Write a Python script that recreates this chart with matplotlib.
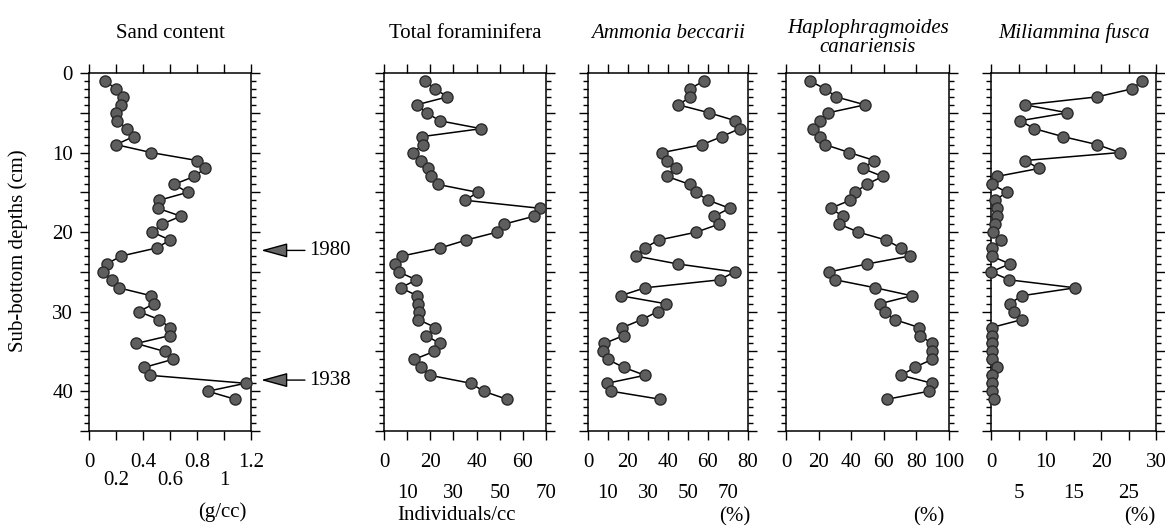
import numpy as np
import matplotlib.pyplot as plt
from matplotlib.ticker import MultipleLocator, FuncFormatter

plt.rcParams['font.family'] = ['Liberation Serif', 'DejaVu Serif']
plt.rcParams['font.size'] = 15

W, H = 1165, 525

DEPTH = np.arange(1, 42)

SAND = [0.12, 0.20, 0.25, 0.24, 0.20, 0.21, 0.28, 0.33, 0.20, 0.46,
        0.80, 0.86, 0.78, 0.63, 0.73, 0.52, 0.51, 0.68, 0.54, 0.47,
        0.60, 0.50, 0.24, 0.13, 0.10, 0.17, 0.22, 0.46, 0.48, 0.37,
        0.52, 0.60, 0.60, 0.35, 0.56, 0.62, 0.41, 0.45, 1.16, 0.88, 1.08]

TOTAL = [17.9, 22.1, 27.4, 14.1, 18.5, 24.0, 42.0, 16.3, 16.7, 12.7,
         16.2, 19.2, 20.2, 23.2, 40.5, 35.1, 67.2, 64.9, 51.9, 48.9,
         35.5, 24.2, 7.8, 4.6, 6.3, 14.0, 7.2, 14.4, 14.9, 15.2,
         14.9, 22.2, 18.2, 24.1, 21.6, 13.1, 16.0, 19.9, 37.5, 43.0, 53.0]

AMMONIA = [58.0, 50.8, 51.2, 45.2, 60.5, 73.7, 75.8, 66.8, 57.2, 37.2,
           39.5, 43.8, 39.5, 50.8, 53.8, 60.2, 70.8, 63.2, 65.5, 54.2,
           35.3, 28.3, 23.8, 44.8, 73.3, 65.8, 28.5, 16.3, 38.8, 34.8,
           26.8, 17.2, 17.8, 8.2, 7.5, 9.8, 17.8, 28.5, 9.5, 11.7, 35.8]

HAPLO = [14.7, 24.1, 30.7, 48.5, 26.0, 20.9, 16.4, 20.9, 23.9, 38.9,
         54.2, 47.0, 59.3, 49.5, 42.3, 39.3, 27.4, 34.8, 32.7, 44.4,
         61.3, 70.6, 76.1, 49.9, 26.4, 30.3, 54.8, 77.1, 57.6, 60.5,
         66.7, 81.8, 82.2, 89.6, 89.6, 89.6, 78.9, 70.8, 89.6, 87.7, 62.2]

MILIAMMINA = [27.5, 25.6, 19.3, 6.2, 13.9, 5.3, 7.9, 13.1, 19.3, 23.4,
              6.2, 8.7, 1.1, 0.2, 2.9, 0.7, 1.0, 1.0, 0.7, 0.4,
              1.9, 0.1, 0.1, 3.4, 0.0, 3.3, 15.3, 5.6, 3.4, 4.2,
              5.6, 0.1, 0.1, 0.2, 0.1, 0.1, 1.1, 0.1, 0.1, 0.1, 0.6]

SERIES = [SAND, TOTAL, AMMONIA, HAPLO, MILIAMMINA]
XMAX = [1.2, 70, 80, 100, 30]
XSTEP = [0.2, 10, 10, 20, 5]
STAGGER = [True, True, True, False, True]
UNITS = ['(g/cc)', 'Individuals/cc', '(%)', '(%)', '(%)']

# panel geometry in pixels
LEFT = [89, 384, 588, 786, 991]
RIGHT = [251, 546, 748, 949, 1156]
TOP, BOTTOM = 73, 431
UNIT_X = [222, 457, 735, 929, 1140]
UNIT_Y = [512, 516, 517, 517, 517]
ROW2_PAD = [13, 23, 23, 23, 23]

fig = plt.figure(figsize=(W / 100, H / 100), dpi=100)

axes = []
for i, vals in enumerate(SERIES):
    ax = fig.add_axes([LEFT[i] / W, 1 - BOTTOM / H,
                       (RIGHT[i] - LEFT[i]) / W, (BOTTOM - TOP) / H])
    ax.plot(vals, DEPTH, '-o', color='black', lw=1.1, mfc='#5e5e5e',
            mec='#2a2a2a', mew=1, ms=8, clip_on=False, zorder=3)
    ax.set_xlim(0, XMAX[i])
    ax.set_ylim(45, 0)

    ticks = np.round(np.arange(0, XMAX[i] + XSTEP[i] / 2, XSTEP[i]), 3)
    fmt = [f'{t:g}' for t in ticks]
    if STAGGER[i]:
        ax.set_xticks(ticks[::2], fmt[::2])
        ax.set_xticks(ticks[1::2], fmt[1::2], minor=True)
    else:
        ax.set_xticks(ticks, fmt)
        ax.set_xticks([], minor=True)
    ax.tick_params(axis='x', which='both', direction='out', top=True,
                   bottom=True, length=6.5, width=1, pad=9, labelsize=15)
    ax.tick_params(axis='x', which='minor', pad=9 + ROW2_PAD[i])

    ax.yaxis.set_major_locator(MultipleLocator(5))
    ax.yaxis.set_minor_locator(MultipleLocator(1))
    ax.tick_params(axis='y', which='both', direction='out', left=True,
                   right=True, width=1)
    ax.tick_params(axis='y', which='major', length=6.5, pad=5, labelsize=15)
    ax.tick_params(axis='y', which='minor', length=3.5)
    if i == 0:
        ax.yaxis.set_major_formatter(
            FuncFormatter(lambda v, p: f'{v:g}' if v % 10 == 0 else ''))
    else:
        ax.set_yticklabels([])

    for s in ax.spines.values():
        s.set_linewidth(1.1)
    axes.append(ax)

# titles
fig.text(170 / W, 1 - 33 / H, 'Sand content', ha='center', va='center')
fig.text(465 / W, 1 - 33 / H, 'Total foraminifera', ha='center', va='center')
fig.text(668 / W, 1 - 33 / H, 'Ammonia beccarii', ha='center', va='center',
         style='italic')
fig.text(868 / W, 1 - 28 / H, 'Haplophragmoides', ha='center', va='center',
         style='italic')
fig.text(868 / W, 1 - 47 / H, 'canariensis', ha='center', va='center',
         style='italic')
fig.text(1074 / W, 1 - 33 / H, 'Miliammina fusca', ha='center', va='center',
         style='italic')

for i, u in enumerate(UNITS):
    fig.text(UNIT_X[i] / W, 1 - UNIT_Y[i] / H, u, ha='center', va='center')

fig.text(18 / W, 1 - 251 / H, 'Sub-bottom depths (cm)', rotation=90,
         ha='center', va='center')

# dated horizons
ax0 = axes[0]
for depth, year in [(22.3, '1980'), (38.6, '1938')]:
    ax0.annotate('', xy=(1.062, depth), xytext=(1.333, depth),
                 xycoords=ax0.get_yaxis_transform(),
                 textcoords=ax0.get_yaxis_transform(),
                 arrowprops=dict(arrowstyle='-|>,head_length=1.1,head_width=0.3',
                                 fc='#666666', ec='black', lw=1,
                                 shrinkA=0, shrinkB=0))
    ax0.text(1.36, depth, year, transform=ax0.get_yaxis_transform(),
             ha='left', va='center')

fig.savefig('out.png', dpi=100)
